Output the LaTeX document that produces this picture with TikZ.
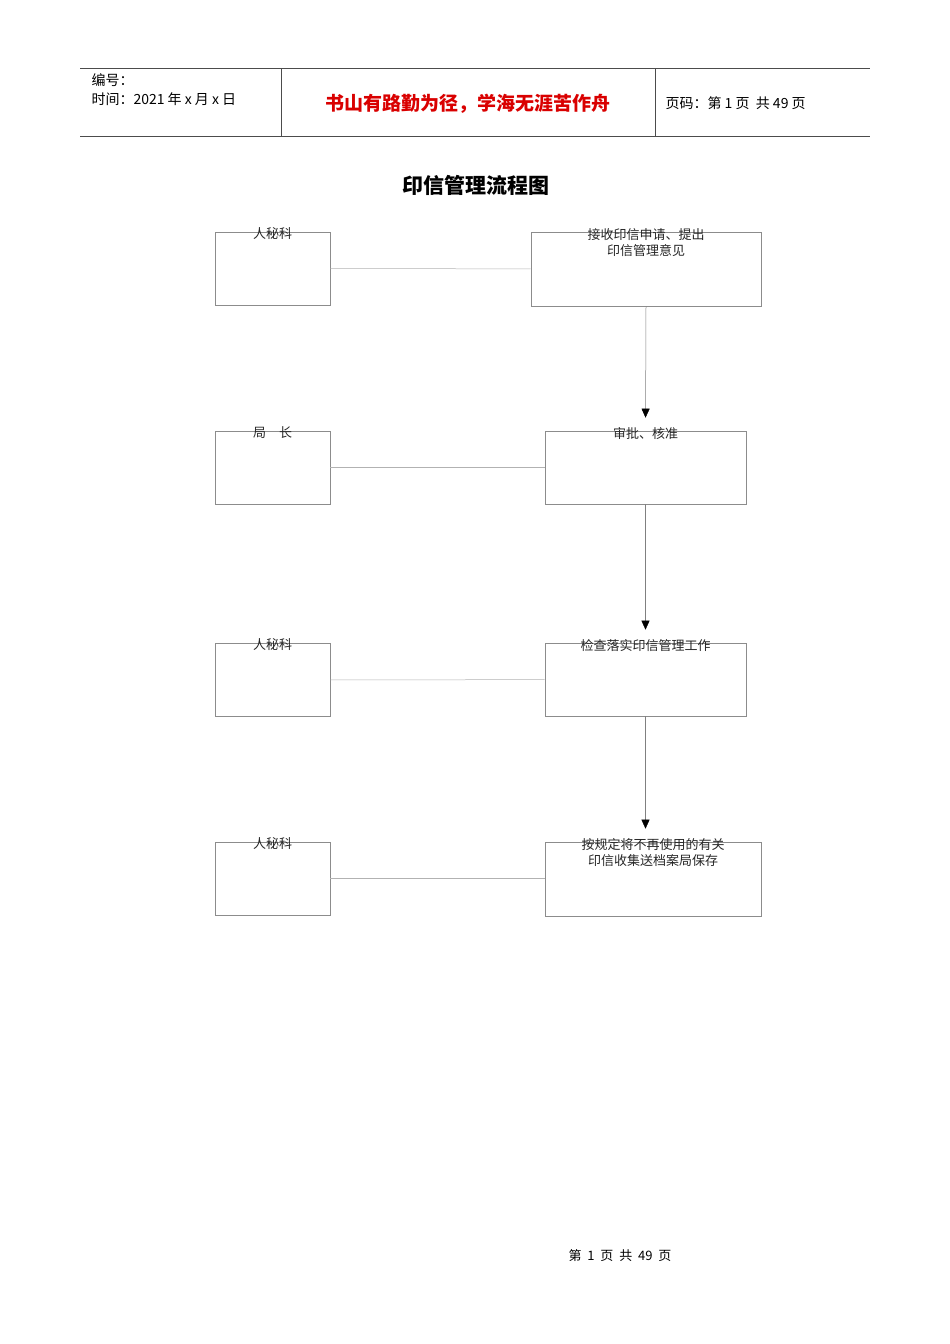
\documentclass[tikz,border=0pt]{standalone}
\usepackage{fontspec}
\setmainfont{Noto Sans CJK SC}
\usetikzlibrary{arrows.meta}
\begin{document}
\begin{tikzpicture}[x=1pt,y=-1pt,
  box/.style={draw=black!45,line width=0.6pt,minimum width=#1,minimum height=73pt,inner sep=0pt},
  lbl/.style={font=\fontsize{13}{16}\selectfont,align=center,text=black!85},
  link/.style={draw=black!30,line width=0.5pt},
  arr/.style={draw=black!50,line width=0.5pt,-{Triangle[length=9pt,width=8pt,fill=black,color=black]},shorten >=13pt}]
\useasboundingbox (0,0) rectangle (950,1344);
% header
\draw[black!70,line width=0.6pt] (80,68) -- (870,68) (80,136) -- (870,136) (281,68) -- (281,136) (655,68) -- (655,136);
\node[anchor=west,font=\fontsize{14}{16}\selectfont] (h1) at (88,80) {编号：};
\node[anchor=west,font=\fontsize{14}{16}\selectfont] (h2) at (88,99) {时间：2021 年 x 月 x 日};
\node[font=\fontsize{19}{22}\selectfont\bfseries,text=red!85!black] (h3) at (468,104) {书山有路勤为径，学海无涯苦作舟};
\node[anchor=west,font=\fontsize{14}{16}\selectfont] (h4) at (662,103) {页码：第 1 页\ \ 共 49 页};
\node[font=\fontsize{21}{24}\selectfont\bfseries] (title) at (476,185) {印信管理流程图};
% left boxes
\node[box=115pt] (l1) at (272.5,268.5) {};
\node[box=115pt] (l2) at (272.5,467.5) {};
\node[box=115pt] (l3) at (272.5,680) {};
\node[box=115pt] (l4) at (272.5,878.5) {};
% right boxes
\node[box=230pt,minimum height=74pt] (r1) at (646,269) {};
\node[box=201pt] (r2) at (645.5,467.5) {};
\node[box=201pt] (r3) at (645.5,679.5) {};
\node[box=216pt,minimum height=74pt] (r4) at (653,879) {};
% labels
\node[lbl,anchor=north] (t1) at ([yshift=8pt]l1.north) {人秘科};
\node[lbl,anchor=north] (t2) at ([yshift=8pt]l2.north) {局\quad 长};
\node[lbl,anchor=north] (t3) at ([yshift=8pt]l3.north) {人秘科};
\node[lbl,anchor=north] (t4) at ([yshift=8pt]l4.north) {人秘科};
\node[lbl,anchor=north] (u1) at ([yshift=7pt]r1.north) {接收印信申请、提出\\印信管理意见};
\node[lbl,anchor=north] (u2) at ([yshift=7pt]r2.north) {审批、核准};
\node[lbl,anchor=north] (u3) at ([yshift=7pt]r3.north) {检查落实印信管理工作};
\node[lbl,anchor=north] (u4) at ([yshift=7pt]r4.north) {按规定将不再使用的有关\\印信收集送档案局保存};
% links
\draw[link] (l1) -- (r1);
\draw[link] (l2) -- (r2);
\draw[link] (l3) -- (r3);
\draw[link] (l4.east) -- (l4.east -| r4.west);
% arrows
\draw[arr] (r1.south) -- (r2.north);
\draw[arr] (r2.south) -- (r3.north);
\draw[arr] (r3.south) -- ([xshift=-7.5pt]r4.north);
% footer
\node[font=\fontsize{13}{15}\selectfont] (f) at (620,1256) {第\ \ 1\ \ 页\ \ 共\ \ 49\ \ 页};
\end{tikzpicture}
\end{document}
